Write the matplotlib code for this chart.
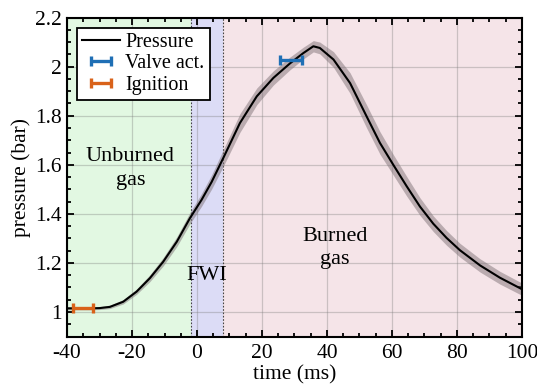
import numpy as np
import matplotlib
matplotlib.use('Agg')
import matplotlib.pyplot as plt
from matplotlib.ticker import MultipleLocator

# pressure trace
time_ms = [-40, -35, -32.9, -30, -26.8, -22.7, -18.6, -14.5, -10.4, -6.2, -2.2, 1.4, 4.5,
           8.1, 13.2, 18.4, 23.5, 28.6, 32.7, 35.8, 37.8, 42, 47.1, 52.2, 56.3, 60.4,
           64.5, 68.6, 72.7, 76.8, 80.9, 87.1, 93.2, 100]
pressure = [1.015, 1.015, 1.015, 1.016, 1.021, 1.042, 1.083, 1.138, 1.205, 1.287, 1.382,
            1.457, 1.53, 1.628, 1.77, 1.879, 1.954, 2.013, 2.055, 2.083, 2.076, 2.029,
            1.933, 1.797, 1.689, 1.600, 1.513, 1.430, 1.360, 1.302, 1.252, 1.190, 1.140,
            1.093]
# half width of the grey band around the trace
spread = [0.006, 0.006, 0.006, 0.006, 0.007, 0.009, 0.011, 0.014, 0.017, 0.02, 0.023,
          0.026, 0.029, 0.034, 0.038, 0.034, 0.029, 0.026, 0.024, 0.023, 0.024, 0.032,
          0.042, 0.047, 0.046, 0.042, 0.04, 0.036, 0.032, 0.03, 0.028, 0.027, 0.026, 0.025]

ign_t, ign_p, ign_err = -35.1, 1.016, 3.2
valve_t, valve_p, valve_err = 29.0, 2.026, 3.45

unburned_end = -2
fwi_end = 8

plt.rcParams['font.family'] = ['Liberation Serif', 'DejaVu Serif']

fig = plt.figure(figsize=(5.37, 3.9), dpi=100)
ax = fig.add_axes([0.1248, 0.137, 0.8472, 0.818])

ax.axvspan(-40, unburned_end, color='#e2f8e2', zorder=0, lw=0)
ax.axvspan(unburned_end, fwi_end, color='#dcdcf6', zorder=0, lw=0)
ax.axvspan(fwi_end, 100, color='#f5e4e8', zorder=0, lw=0)
ax.axvline(unburned_end, color='#444444', ls=(0, (1.5, 1.5)), lw=0.8, zorder=1)
ax.axvline(fwi_end, color='#444444', ls=(0, (1.5, 1.5)), lw=0.8, zorder=1)

ax.grid(True, color='#7a7a7a', alpha=0.35, lw=0.9, zorder=1)
ax.set_axisbelow(True)

t = np.array(time_ms)
p = np.array(pressure)
s = np.array(spread)
ax.fill_between(t, p - s, p + s, color='#807378', alpha=0.5, lw=0, zorder=2)
ax.plot(t, p, color='black', lw=1.5, label='Pressure', zorder=4)

ax.errorbar(valve_t, valve_p, xerr=valve_err, fmt='none', ecolor='#1f6fb5',
            elinewidth=2.4, capsize=3.5, capthick=2.4, label='Valve act.', zorder=5)
ax.errorbar(ign_t, ign_p, xerr=ign_err, fmt='none', ecolor='#d9621a',
            elinewidth=2.4, capsize=3.5, capthick=2.4, label='Ignition', zorder=5)

ax.text(-20.5, 1.585, 'Unburned\ngas', ha='center', va='center', fontsize=16,
        linespacing=1.3)
ax.text(3, 1.15, 'FWI', ha='center', va='center', fontsize=16)
ax.text(42.5, 1.26, 'Burned\ngas', ha='center', va='center', fontsize=16,
        linespacing=1.3)

ax.set_xlim(-40, 100)
ax.set_ylim(0.9, 2.2)
ax.xaxis.set_minor_locator(MultipleLocator(5))
ax.yaxis.set_minor_locator(MultipleLocator(0.05))
ax.set_yticks([1, 1.2, 1.4, 1.6, 1.8, 2, 2.2])
ax.set_yticklabels(['1', '1.2', '1.4', '1.6', '1.8', '2', '2.2'])
ax.set_xticks([-40, -20, 0, 20, 40, 60, 80, 100])
ax.set_xticklabels(['-40', '-20', '0', '20', '40', '60', '80', '100'])
ax.tick_params(which='both', direction='in', top=True, right=True, labelsize=15.5, width=1.3)
ax.tick_params(which='major', length=5)
ax.tick_params(axis='x', which='major', pad=5)
ax.tick_params(which='minor', length=3)
for sp in ax.spines.values():
    sp.set_linewidth(1.5)

ax.set_xlabel('time (ms)', fontsize=15.5, labelpad=2)
ax.set_ylabel('pressure (bar)', fontsize=15.5, labelpad=3)

leg = ax.legend(loc='upper left', fontsize=14.5, frameon=True, fancybox=False,
                edgecolor='black', framealpha=1, borderpad=0.25, labelspacing=0.12,
                handlelength=1.9, handletextpad=0.25, borderaxespad=0.5)
leg.get_frame().set_linewidth(1.3)

fig.savefig('out.png', dpi=100)
